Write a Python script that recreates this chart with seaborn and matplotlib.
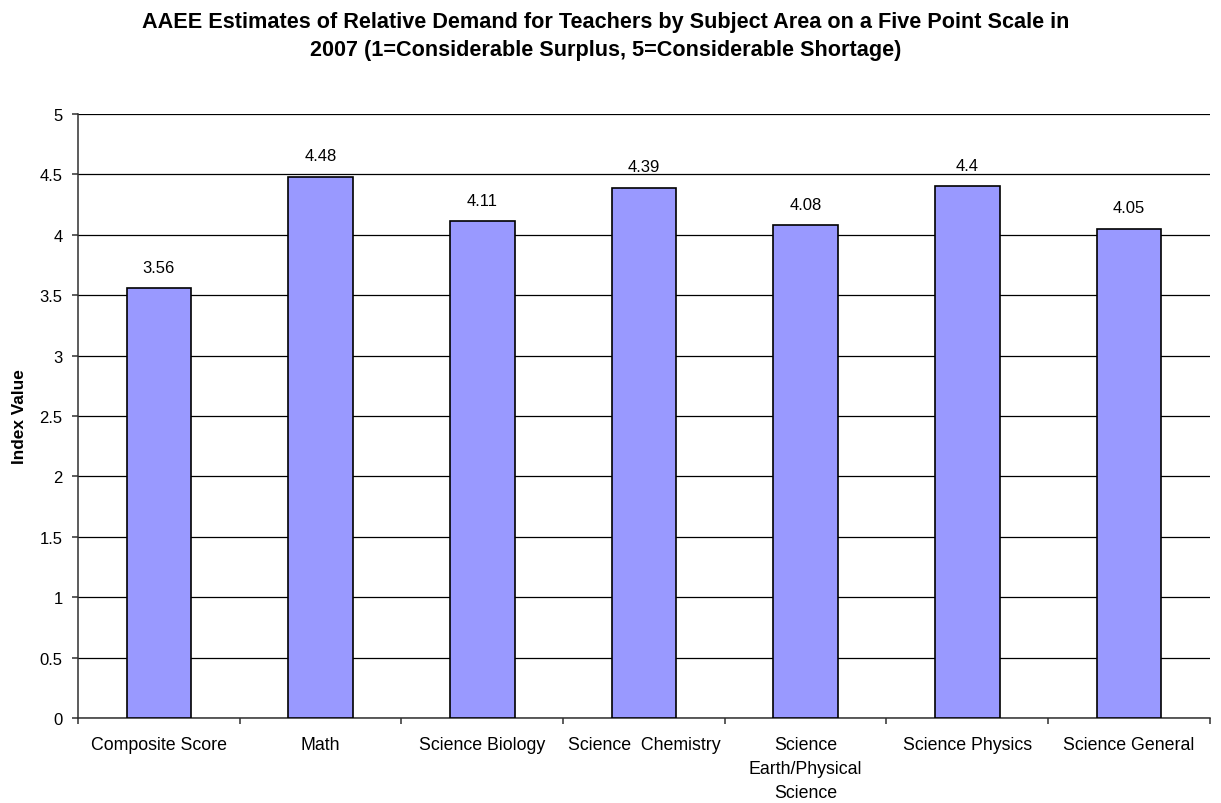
import matplotlib
matplotlib.use("Agg")
import matplotlib.pyplot as plt
import seaborn as sns
import pandas as pd
import numpy as np
from matplotlib.ticker import FixedLocator

categories = [
    "Composite Score",
    "Math",
    "Science Biology",
    "Science  Chemistry",
    "Science\nEarth/Physical\nScience",
    "Science Physics",
    "Science General",
]
values = [3.56, 4.48, 4.11, 4.39, 4.08, 4.40, 4.05]
value_labels = ["3.56", "4.48", "4.11", "4.39", "4.08", "4.4", "4.05"]
y_ticks = [0, 0.5, 1, 1.5, 2, 2.5, 3, 3.5, 4, 4.5, 5]
y_tick_labels = ["0", "0.5", "1", "1.5", "2", "2.5", "3", "3.5", "4", "4.5", "5"]

title = ("AAEE Estimates of Relative Demand for Teachers by Subject Area on a Five Point Scale in\n"
         "2007 (1=Considerable Surplus, 5=Considerable Shortage)")

sns.set_theme(style="white")
plt.rcParams["font.family"] = ["Liberation Sans", "DejaVu Sans"]
plt.rcParams["text.color"] = "black"
plt.rcParams["axes.labelcolor"] = "black"
plt.rcParams["xtick.color"] = "black"
plt.rcParams["ytick.color"] = "black"

df = pd.DataFrame({"category": categories, "value": values})

fig = plt.figure(figsize=(12.21, 8.04), dpi=100)
ax = fig.add_axes([0.0639, 0.1057, 0.927, 0.7513])

sns.barplot(data=df, x="category", y="value", ax=ax, color="#9999FF",
            saturation=1, width=0.4, edgecolor="black", linewidth=1.2, zorder=3)

ax.set_ylim(0, 5)
ax.set_xlim(-0.5, len(categories) - 0.5)
ax.set_yticks(y_ticks)
ax.set_yticklabels(y_tick_labels)
ax.grid(axis="y", color="black", linewidth=0.9, zorder=0)
ax.grid(axis="x", visible=False)

for s in ["top", "right"]:
    ax.spines[s].set_visible(False)
ax.spines["left"].set_color("#303030")
ax.spines["bottom"].set_color("#303030")
ax.spines["left"].set_linewidth(1.1)
ax.spines["bottom"].set_linewidth(1.1)

# category labels centered, tick marks at category boundaries
ax.set_xticks(range(len(categories)))
ax.set_xticklabels(categories, fontsize=12.8, linespacing=1.55)
ax.tick_params(axis="x", length=0, pad=13)
ax.xaxis.set_minor_locator(FixedLocator(np.arange(-0.5, len(categories), 1.0)))
ax.tick_params(axis="x", which="minor", bottom=True, length=4, width=1.1, color="#303030")
ax.tick_params(axis="y", left=True, length=4, width=1.1, color="#303030",
               labelcolor="black", labelsize=12, pad=7)

ax.set_xlabel("")
ax.set_ylabel("Index Value", fontsize=12.4, fontweight="bold")
ax.yaxis.set_label_coords(-0.045, 0.5)

for i, (v, lab) in enumerate(zip(values, value_labels)):
    ax.annotate(lab, xy=(i, v), xytext=(0, 15), textcoords="offset points",
                ha="center", va="center", fontsize=12)

fig.text(0.496, 0.955, title, ha="center", va="center", fontsize=15.6,
         fontweight="bold", linespacing=1.42)

fig.savefig("out.png", dpi=100, facecolor="white")
